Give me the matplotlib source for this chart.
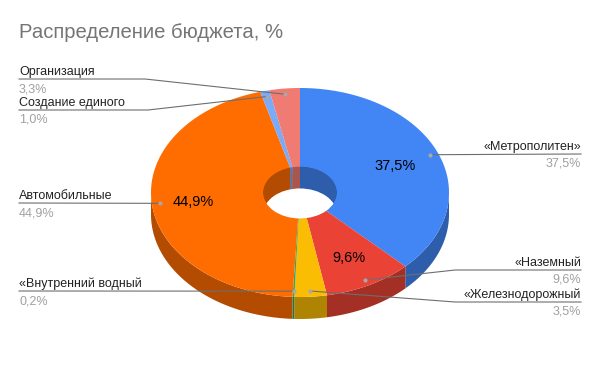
import numpy as np
import matplotlib
matplotlib.use("Agg")
import matplotlib.pyplot as plt
from matplotlib.patches import Ellipse, Polygon

plt.rcParams['font.family'] = ['Liberation Sans', 'DejaVu Sans']

names = ["«Метрополитен»", "«Наземный", "«Железнодорожный", "«Внутренний водный",
         "Автомобильные", "Создание единого", "Организация"]
shares = [37.5, 9.6, 3.5, 0.2, 44.9, 1.0, 3.3]
shares_text = ["37,5%", "9,6%", "3,5%", "0,2%", "44,9%", "1,0%", "3,3%"]
colors = ["#4285f4", "#ea4335", "#fbbc04", "#34a853", "#ff6d01", "#7baaf7", "#f07b72"]
side_colors = ["#2e5dab", "#a42f25", "#b08403", "#24763a", "#b34c01", "#5677ad", "#a85650"]
# radial place of the label inside the slice, None = no label inside
inside_frac = [0.69, 0.70, None, None, 0.72, None, None]

# label layout: side, y of leader line, x of elbow (None = straight line)
label_side = ["r", "r", "r", "l", "l", "l", "l"]
label_y = [154, 270, 302, 291, 203, 110, 79]
label_elbow = [None, 455, 455, None, None, 148, 145]

cx, cy = 300, 192.5
rx, ry = 149, 104.5
hole_rx, hole_ry = 37, 26
depth = 22


def arc(a0, a1, w, h, dy=0):
    # angles are degrees clockwise from the top
    t = np.radians(np.linspace(a0, a1, max(int(abs(a1 - a0)) + 2, 2)))
    return np.column_stack([cx + w * np.sin(t), cy + dy - h * np.cos(t)])


def pie_point(a, frac):
    t = np.radians(a)
    return cx + rx * frac * np.sin(t), cy - ry * frac * np.cos(t)


fig = plt.figure(figsize=(6, 3.71), dpi=100)
ax = fig.add_axes([0, 0, 1, 1])
ax.set_xlim(0, 600)
ax.set_ylim(371, 0)
ax.axis("off")

edges = np.cumsum([0] + shares) / sum(shares) * 360
mids = (edges[:-1] + edges[1:]) / 2

# outer side, only the front half shows
for i in range(len(shares)):
    a0, a1 = max(edges[i], 90), min(edges[i + 1], 270)
    if a1 <= a0:
        continue
    top = arc(a0, a1, rx, ry)
    bottom = arc(a1, a0, rx, ry, depth)
    ax.add_patch(Polygon(np.vstack([top, bottom]), fc=side_colors[i], ec="none", zorder=1))

# top faces
for i in range(len(shares)):
    pts = np.vstack([[[cx, cy]], arc(edges[i], edges[i + 1], rx, ry)])
    ax.add_patch(Polygon(pts, fc=colors[i], ec="none", zorder=2))

# hole: inner wall then the white see-through part
hole = Ellipse((cx, cy), hole_rx * 2, hole_ry * 2, fc="none", ec="none", zorder=3)
ax.add_patch(hole)
for i in range(len(shares)):
    top = arc(edges[i], edges[i + 1], hole_rx, hole_ry)
    bottom = arc(edges[i + 1], edges[i], hole_rx, hole_ry, depth)
    wall = Polygon(np.vstack([top, bottom]), fc=side_colors[i], ec="none", zorder=3)
    ax.add_patch(wall)
    wall.set_clip_path(hole)
through = Ellipse((cx, cy + depth), hole_rx * 2, hole_ry * 2, fc="white", ec="none", zorder=4)
ax.add_patch(through)
through.set_clip_path(hole)

# leaders and labels
for i in range(len(shares)):
    x, y = pie_point(mids[i], 0.945)
    end_x = 581 if label_side[i] == "r" else 19
    line_x = [x]
    line_y = [y]
    if label_elbow[i] is not None:
        line_x.append(label_elbow[i])
        line_y.append(label_y[i])
    line_x.append(end_x)
    line_y.append(label_y[i])
    ax.plot(line_x, line_y, color="#6e6e6e", lw=0.8, zorder=5)
    ax.scatter([x], [y], s=9, color="#a8a8a8", linewidths=0, zorder=6)
    ha = "right" if label_side[i] == "r" else "left"
    ax.text(end_x, label_y[i] - 4, names[i], ha=ha, va="baseline", fontsize=9, color="#222222", zorder=7)
    ax.text(end_x, label_y[i] + 13, shares_text[i], ha=ha, va="baseline", fontsize=9, color="#a0a0a0", zorder=7)
    if inside_frac[i] is not None:
        tx, ty = pie_point(mids[i], inside_frac[i])
        ax.text(tx, ty + 1, shares_text[i], ha="center", va="center", fontsize=10.5, color="#000000", zorder=7)

ax.text(19, 38, "Распределение бюджета, %", ha="left", va="baseline", fontsize=14.55, color="#757575")

fig.savefig("out.png", dpi=100)
